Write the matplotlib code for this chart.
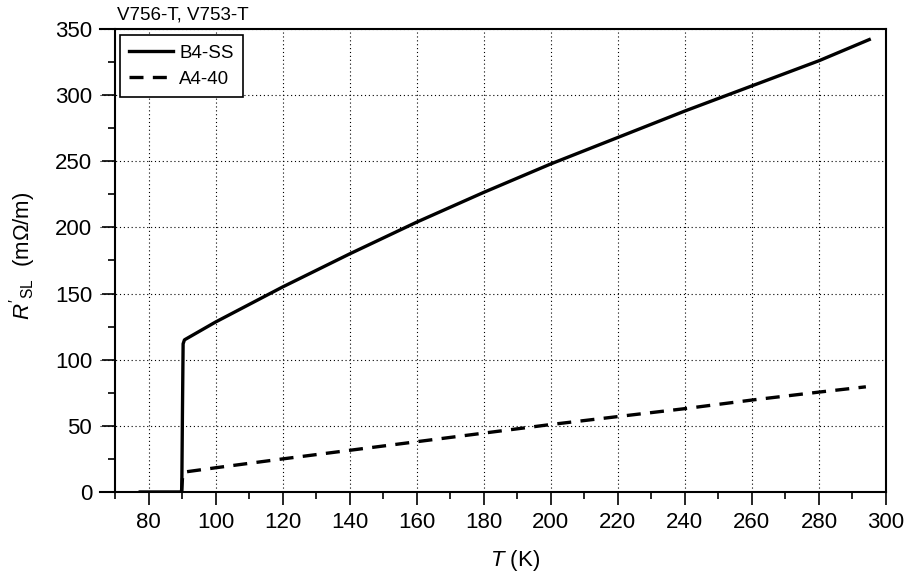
import numpy as np
import matplotlib
matplotlib.use('Agg')
import matplotlib.pyplot as plt
from matplotlib.ticker import MultipleLocator

plt.rcParams['font.family'] = ['Liberation Sans', 'DejaVu Sans']
plt.rcParams['mathtext.fontset'] = 'custom'
plt.rcParams['mathtext.rm'] = 'Liberation Sans'
plt.rcParams['mathtext.it'] = 'Liberation Sans:italic'

# B4-SS (V756-T)
t_b4 = [77.5, 89.6, 89.9, 90.1, 90.3, 90.7, 100, 120, 140, 160, 180, 200, 220, 240, 260, 280, 295]
r_b4 = [0, 0, 0.5, 60, 112, 115, 128.5, 155, 180, 204, 226.5, 248, 268, 288, 307, 326, 342]

# A4-40 (V753-T)
t_a4 = [89.8, 90.1, 90.5, 100, 120, 140, 160, 180, 200, 220, 240, 260, 280, 294]
r_a4 = [0, 10, 15, 18.3, 25, 31.5, 38, 44.5, 51, 57, 63, 69.5, 75.5, 79.5]

fig = plt.figure(figsize=(9.09, 5.74), dpi=100)
ax = fig.add_axes([0.110, 0.1429, 0.8647, 0.8066])

ax.plot(t_b4, r_b4, color='black', lw=2.4, label='B4-SS')
ax.plot(t_a4, r_a4, color='black', lw=2.4, dashes=(4.2, 2.8), label='A4-40')

ax.set_xlim(65.5, 300)
ax.set_ylim(0, 350)
ax.xaxis.set_major_locator(MultipleLocator(20))
ax.xaxis.set_minor_locator(MultipleLocator(10))
ax.yaxis.set_major_locator(MultipleLocator(50))
ax.yaxis.set_minor_locator(MultipleLocator(25))
ax.set_xticks(np.arange(80, 301, 20))

ax.spines['left'].set_position(('data', 70))
for s in ax.spines.values():
    s.set_linewidth(1.5)

ax.tick_params(which='major', direction='out', length=9.5, width=1.2, labelsize=16)
ax.tick_params(axis='x', which='major', pad=5)
ax.tick_params(axis='y', which='major', pad=7)
ax.tick_params(which='minor', direction='out', length=5, width=1.2)

ax.grid(True, which='major', color='black', linestyle=(0, (1, 2.5)), linewidth=0.8)

ax.set_xlabel('$T$ (K)', fontsize=16)
ax.xaxis.set_label_coords(0.528, -0.12)
ax.set_ylabel("$R'_{\\mathrm{SL}}$  (mΩ/m)", fontsize=16)
ax.yaxis.set_label_coords(-0.079, 0.51)

ax.text(0.022, 1.012, 'V756-T, V753-T', transform=ax.transAxes, fontsize=13.5,
        ha='left', va='bottom')

leg = ax.legend(loc='upper left', bbox_to_anchor=(0.0254, 0.987), fontsize=13.5,
                handlelength=2.35, handletextpad=0.3, borderpad=0.5,
                labelspacing=0.5, fancybox=False, framealpha=1,
                edgecolor='black', borderaxespad=0)
leg.get_frame().set_linewidth(1.2)

plt.savefig('out.png', dpi=100)
